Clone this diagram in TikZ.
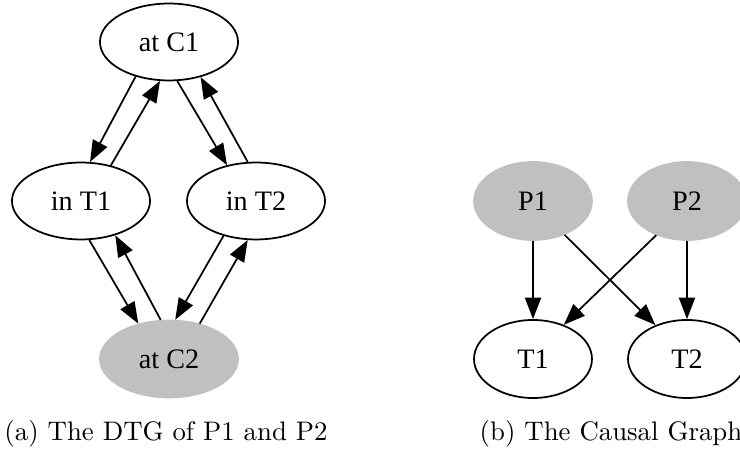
\documentclass[tikz,border=0pt]{standalone}
\usepackage{fontspec}
\newfontfamily\dotfont{Liberation Serif}
\usetikzlibrary{shapes.geometric,arrows.meta}
\definecolor{dotgray}{RGB}{192,192,192}

\tikzset{
  dtg/.style={ellipse,draw,line width=0.65pt,inner sep=0pt,
    minimum width=51.5pt,minimum height=28.7pt,
    font=\dotfont\fontsize{10.5pt}{12pt}\selectfont},
  cg/.style={dtg,minimum width=44pt,minimum height=29.1pt},
  init/.style={fill=dotgray,draw=dotgray},
  edge/.style={-{Triangle[length=8pt,width=6pt]},line width=0.65pt}
}

\begin{document}
\begin{tikzpicture}[x=0.373pt,y=-0.373pt]
\useasboundingbox (0,0) rectangle (740,457);

\node[dtg] (atC1) at (169,42) {at C1};
\node[dtg] (inT1) at (81,201) {in T1};
\node[dtg] (inT2) at (256,201) {in T2};
\node[dtg,init] (atC2) at (169,359) {at C2};

\draw[edge] (atC1.226) -- (inT1.77);
\draw[edge] (inT1.50) -- (atC1.257);
\draw[edge] (atC1.282) -- (inT2.129);
\draw[edge] (inT2.102) -- (atC1.312);
\draw[edge] (inT1.282) -- (atC2.131);
\draw[edge] (atC2.102) -- (inT1.315);
\draw[edge] (inT2.227) -- (atC2.81);
\draw[edge] (atC2.49) -- (inT2.258);

\node[cg,init] (P1) at (533,201) {P1};
\node[cg,init] (P2) at (687,201) {P2};
\node[cg] (T1) at (533,359) {T1};
\node[cg] (T2) at (687,359) {T2};

\draw[edge] (P1) -- (T1);
\draw[edge] (P2) -- (T2);
\draw[edge] (P1.313) -- (T2.133);
\draw[edge] (P2.228) -- (T1.48);

\node[anchor=base] (capa) at (166,441) {(a) The DTG of P1 and P2};
\node[anchor=base] (capb) at (611,441) {(b) The Causal Graph};

\end{tikzpicture}
\end{document}
